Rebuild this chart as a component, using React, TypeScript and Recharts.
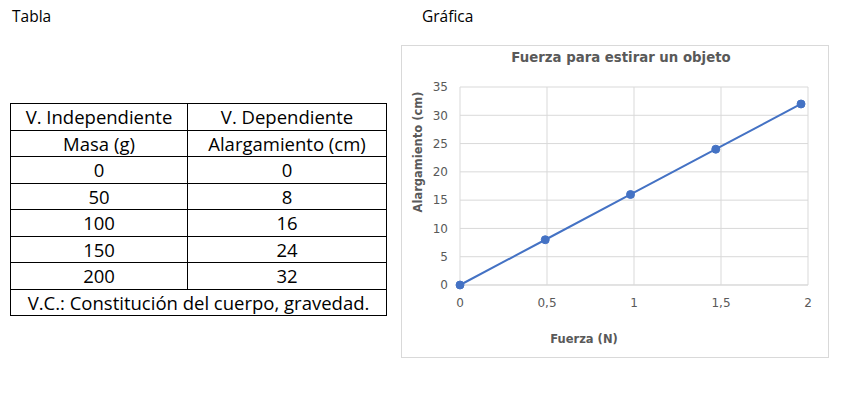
import { LineChart, Line, XAxis, YAxis, CartesianGrid } from "recharts";

// tabla: masa (g) -> alargamiento (cm)
const masas = [0, 50, 100, 150, 200];
const alargamientos = [0, 8, 16, 24, 32];
const fuerzas = [0, 0.49, 0.98, 1.47, 1.96];

const xTicks = [0, 0.5, 1, 1.5, 2];
const yTicks = [0, 5, 10, 15, 20, 25, 30, 35];

const data = fuerzas.map((f, i) => ({ fuerza: f, alargamiento: alargamientos[i] }));

const grey = "#595959";
const chartFont = "'DejaVu Sans', Verdana, sans-serif";
const tableFont = "'Open Sans', 'Noto Sans', sans-serif";

const cell: React.CSSProperties = {
  border: "1px solid #000",
  textAlign: "center",
  padding: 0,
  height: 25.5,
  lineHeight: "25px",
};

export default function App() {
  return (
    <div style={{ position: "absolute", left: 0, top: 0, width: 842, height: 398, background: "#fff" }}>
      {/* Encabezados */}
      <div style={{ position: "absolute", left: 12, top: 5, fontFamily: tableFont, fontSize: 15.5, color: "#000" }}>
        Tabla
      </div>
      <div style={{ position: "absolute", left: 422, top: 5, fontFamily: tableFont, fontSize: 15.5, color: "#000" }}>
        Gráfica
      </div>

      {/* Tabla */}
      <table
        style={{
          position: "absolute",
          left: 10,
          top: 103,
          width: 377,
          borderCollapse: "collapse",
          fontFamily: tableFont,
          fontSize: 18.5,
          color: "#000",
        }}
      >
        <tbody>
          <tr>
            <td style={{ ...cell, width: 176 }}>V. Independiente</td>
            <td style={cell}>V. Dependiente</td>
          </tr>
          <tr>
            <td style={cell}>Masa (g)</td>
            <td style={cell}>Alargamiento (cm)</td>
          </tr>
          {masas.map((m, i) => (
            <tr key={m}>
              <td style={cell}>{m}</td>
              <td style={cell}>{alargamientos[i]}</td>
            </tr>
          ))}
          <tr>
            <td style={cell} colSpan={2}>
              V.C.: Constitución del cuerpo, gravedad.
            </td>
          </tr>
        </tbody>
      </table>

      {/* Gráfica */}
      <div
        style={{
          position: "absolute",
          left: 401,
          top: 45,
          width: 426,
          height: 311,
          border: "1px solid #d9d9d9",
          background: "#fff",
        }}
      >
        <div
          style={{
            position: "absolute",
            left: 6,
            width: 426,
            top: 4,
            textAlign: "center",
            fontFamily: chartFont,
            fontWeight: "bold",
            fontSize: 13.3,
            color: grey,
          }}
        >
          Fuerza para estirar un objeto
        </div>
        <div style={{ position: "absolute", left: 16, top: 106, width: 0, height: 0 }}>
          <div
            style={{
              position: "absolute",
              transform: "translate(-50%, -50%) rotate(-90deg)",
              whiteSpace: "nowrap",
              fontFamily: chartFont,
              fontWeight: "bold",
              fontSize: 11.5,
              color: grey,
            }}
          >
            Alargamiento (cm)
          </div>
        </div>
        <div style={{ position: "absolute", left: 182, top: 293, width: 0, height: 0 }}>
          <div
            style={{
              position: "absolute",
              transform: "translate(-50%, -50%)",
              whiteSpace: "nowrap",
              fontFamily: chartFont,
              fontWeight: "bold",
              fontSize: 11.5,
              color: grey,
            }}
          >
            Fuerza (N)
          </div>
        </div>

        <LineChart
          width={426}
          height={311}
          data={data}
          margin={{ top: 41, right: 20, bottom: 42, left: 18 }}
          style={{ position: "absolute", left: 0, top: 0 }}
        >
          <CartesianGrid stroke="#d9d9d9" strokeWidth={1} />
          <XAxis
            dataKey="fuerza"
            type="number"
            domain={[0, 2]}
            ticks={xTicks}
            interval={0}
            tickFormatter={(v: number) => String(v).replace(".", ",")}
            axisLine={{ stroke: "#d9d9d9" }}
            tickLine={false}
            tickMargin={7}
            height={30}
            tick={{ fill: grey, fontSize: 12, fontFamily: chartFont }}
          />
          <YAxis
            type="number"
            domain={[0, 35]}
            ticks={yTicks}
            interval={0}
            axisLine={false}
            tickLine={false}
            tickMargin={6}
            width={40}
            tick={{ fill: grey, fontSize: 12, fontFamily: chartFont }}
          />
          <Line
            type="linear"
            dataKey="alargamiento"
            stroke="#4472C4"
            strokeWidth={2}
            dot={{ r: 4, fill: "#4472C4", stroke: "#4472C4", strokeWidth: 1 }}
            isAnimationActive={false}
          />
        </LineChart>
      </div>
    </div>
  );
}
